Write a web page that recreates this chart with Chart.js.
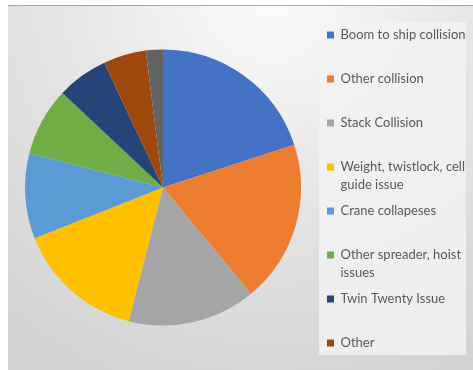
<!DOCTYPE html>
<html>
<head>
<meta charset="utf-8">
<script src="https://cdn.jsdelivr.net/npm/chart.js@4.4.1/dist/chart.umd.min.js"></script>
<style>
  html, body { margin: 0; padding: 0; background: #ffffff; }
  #wrap { width: 473px; height: 370px; }
</style>
</head>
<body>
<div id="wrap"><canvas id="c" width="473" height="370"></canvas></div>
<script>
// ---- data ----
const categories = [
  'Boom to ship collision',
  'Other collision',
  'Stack Collision',
  'Weight, twistlock, cell guide issue',
  'Crane collapeses',
  'Other spreader, hoist issues',
  'Twin Twenty Issue',
  'Other',
  ''
];
const values = [20, 19, 15, 15, 10, 8, 6, 5, 2];
const colors = ['#4472C4', '#ED7D31', '#A5A5A5', '#FFC000', '#5B9BD5', '#70AD47', '#264478', '#9E480E', '#636363'];
const legendCount = 8;

const FONT_FAMILY = 'Lato, "Open Sans", sans-serif';
const legendFont = { family: FONT_FAMILY, size: 13, lineHeight: '17.5px' };

function wrapLines(ctx, text, maxW) {
  const words = text.split(' ');
  const lines = [];
  let cur = '';
  for (const w of words) {
    const t = cur ? cur + ' ' + w : w;
    if (cur && ctx.measureText(t).width > maxW) { lines.push(cur); cur = w; }
    else cur = t;
  }
  lines.push(cur);
  return lines;
}

const bgPlugin = {
  id: 'bgPlugin',
  beforeDraw(chart) {
    const ctx = chart.ctx;
    const W = chart.width, H = chart.height;
    ctx.save();
    ctx.fillStyle = '#ffffff';
    ctx.fillRect(0, 0, W, H);
    const g = ctx.createRadialGradient(270, -10, 10, 270, -10, 430);
    g.addColorStop(0, '#FBFBFB');
    g.addColorStop(0.45, '#E6E6E6');
    g.addColorStop(1, '#D2D2D2');
    ctx.fillStyle = g;
    ctx.fillRect(8, 5, W - 8, H - 5);
    ctx.fillStyle = '#A8A8A8';
    ctx.fillRect(8, 5, W - 8, 1);
    // legend panel
    const lg = chart.legend;
    if (lg) {
      ctx.fillStyle = 'rgba(242,242,242,0.85)';
      ctx.fillRect(lg.left + 1, lg.top + 17, lg.right - lg.left - 1, lg.bottom - lg.top - 32);
    }
    ctx.restore();
  }
};

const ctx = document.getElementById('c').getContext('2d');
new Chart(ctx, {
  type: 'pie',
  data: {
    labels: categories,
    datasets: [{
      data: values,
      backgroundColor: colors,
      borderWidth: 0,
      radius: 138
    }]
  },
  options: {
    responsive: false,
    devicePixelRatio: 1,
    animation: false,
    layout: { padding: { left: 8, top: 5, right: 7, bottom: 0 } },
    plugins: {
      tooltip: { enabled: false },
      legend: {
        position: 'right',
        align: 'start',
        maxWidth: 148,
        title: { display: true, text: '', padding: 0, font: { family: FONT_FAMILY, size: 10, lineHeight: '14.5px' } },
        labels: {
          boxWidth: 7,
          boxHeight: 7,
          padding: 9,
          color: '#595959',
          font: legendFont,
          filter: (item) => item.index < legendCount,
          generateLabels(chart) {
            const items = Chart.overrides.pie.plugins.legend.labels.generateLabels(chart);
            const c = chart.ctx;
            c.save();
            c.font = '13px ' + FONT_FAMILY;
            items.forEach((it, i) => {
              const lines = wrapLines(c, categories[i], 130);
              if (i === legendCount - 1) { it.text = lines.length > 1 ? lines : lines[0]; }
              else { it.text = lines.length > 1 ? lines : [lines[0], '']; }
              it.lineWidth = 0;
              it.strokeStyle = 'rgba(0,0,0,0)';
            });
            c.restore();
            return items;
          }
        }
      }
    }
  },
  plugins: [bgPlugin]
});
</script>
</body>
</html>
